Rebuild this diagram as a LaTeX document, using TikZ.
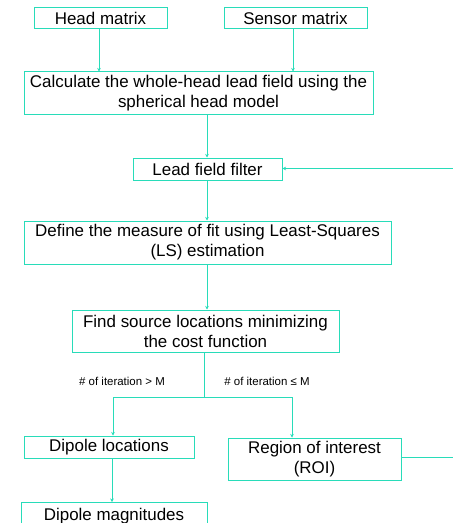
\documentclass[tikz,border=0pt]{standalone}
\usepackage{fontspec}
\setmainfont{Liberation Sans}
\usetikzlibrary{arrows.meta}
\definecolor{teal1}{RGB}{40,220,185}
\tikzset{
  box/.style={draw=teal1, line width=1pt, inner sep=0pt, font=\fontsize{17}{20}\selectfont, align=center},
  conn/.style={draw=teal1, line width=0.9pt},
  arr/.style={conn, -{Stealth[length=3.5pt,width=3.5pt]}},
  lbl/.style={font=\fontsize{11.5}{13}\selectfont, inner sep=0pt}
}
\begin{document}
\begin{tikzpicture}[x=1bp,y=-1bp]
\useasboundingbox (0,0) rectangle (453,523);
\node[box, minimum width=133bp, minimum height=21bp] (head) at (100.5,18.5) {Head matrix};
\node[box, minimum width=143bp, minimum height=21bp] (sensor) at (295.5,18.5) {Sensor matrix};
\node[box, minimum width=349bp, minimum height=42bp] (calc) at (198.5,93) {Calculate the whole-head lead field using the\\spherical head model};
\node[box, minimum width=149bp, minimum height=22bp] (filter) at (207.5,169) {Lead field filter};
\node[box, minimum width=367bp, minimum height=43bp] (define) at (207.5,242.5) {Define the measure of fit using Least-Squares\\(LS) estimation};
\node[box, minimum width=267bp, minimum height=42bp] (find) at (205.5,331) {Find source locations minimizing\\the cost function};
\node[box, minimum width=170bp, minimum height=22bp] (dloc) at (109,447) {Dipole locations};
\node[box, minimum width=173bp, minimum height=42bp] (roi) at (314.5,459) {Region of interest\\(ROI)};
\node[box, minimum width=186bp, minimum height=28bp, anchor=north] (dmag) at (114,502) {Dipole magnitudes};
\node[lbl] (l1) at (122,381) {\# of iteration > M};
\node[lbl] (l2) at (267,381) {\# of iteration ≤ M};
\coordinate (split) at (204,397);
\coordinate (e1) at (453,168.5);
\coordinate (e2) at (453,457);
\draw[arr] (head.south -| 99,0) -- (calc.north -| 99,0);
\draw[arr] (sensor.south -| 293,0) -- (calc.north -| 293,0);
\draw[arr] (calc.south -| 207,0) -- (filter.north -| 207,0);
\draw[arr] (filter.south -| 207,0) -- (define.north -| 207,0);
\draw[arr] (define.south -| 207,0) -- (find.north -| 207,0);
\draw[conn] (find.south -| split) -- (split);
\draw[arr] (split) -| (dloc.north -| 113,0);
\draw[arr] (split) -| (roi.north -| 292,0);
\draw[arr] (dloc.south -| 112,0) -- (dmag.north -| 112,0);
\draw[conn] (roi.east |- e2) -- (e2);
\draw[arr] (e1) -- (filter.east |- e1);
\end{tikzpicture}
\end{document}
